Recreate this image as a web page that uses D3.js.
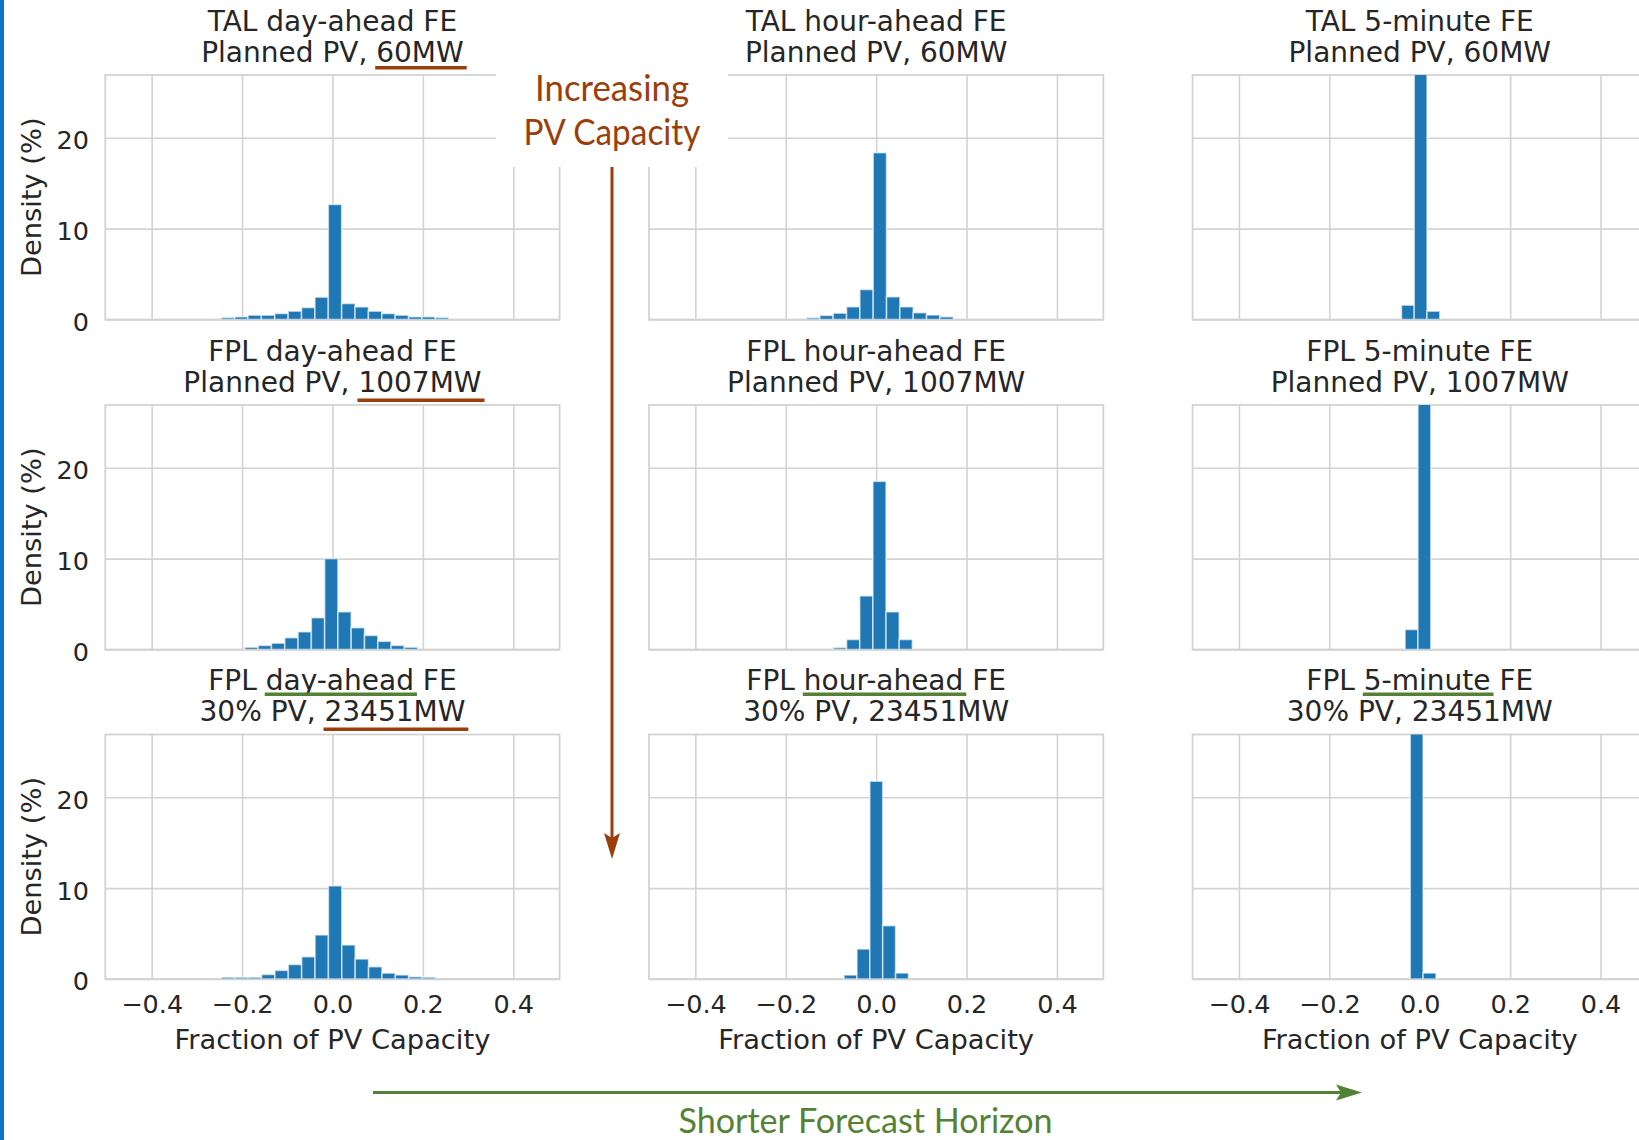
<!DOCTYPE html>
<html>
<head>
<meta charset="utf-8">
<script src="https://cdnjs.cloudflare.com/ajax/libs/d3/7.8.5/d3.min.js"></script>
<style>
  html, body { margin: 0; padding: 0; background: #fff; }
  svg { display: block; }
  text { white-space: pre; }
</style>
</head>
<body>
<svg id="fig" width="1639" height="1140"></svg>
<script>
// ---- panel labels ----
const horizons   = ["day-ahead", "hour-ahead", "5-minute"];
const systems    = ["TAL", "FPL", "FPL"];
const pvCases    = ["Planned PV", "Planned PV", "30% PV"];
const capacities = ["60MW", "1007MW", "23451MW"];
const xTicks = [-0.4, -0.2, 0.0, 0.2, 0.4];
const yTicks = [0, 10, 20];

// ---- forecast-error densities (%), bins left to right ----
const talDayAhead     = [0.22, 0.3, 0.48, 0.48, 0.66, 0.92, 1.32, 2.46, 12.66, 1.76, 1.39, 0.92, 0.66, 0.48, 0.3, 0.3, 0.22];
const talHourAhead    = [0.2, 0.45, 0.7, 1.4, 3.3, 18.35, 2.5, 1.4, 0.75, 0.5, 0.3];
const tal5Minute      = [1.58, 31.0, 0.92];
const fplDayAhead     = [0.25, 0.45, 0.7, 1.3, 1.95, 3.5, 10.0, 4.15, 2.4, 1.55, 0.9, 0.45, 0.25];
const fplHourAhead    = [0.22, 1.1, 5.9, 18.5, 4.15, 1.1];
const fpl5Minute      = [2.2, 31.0];
const fpl30DayAhead   = [0.2, 0.2, 0.2, 0.5, 0.95, 1.6, 2.45, 4.85, 10.25, 3.75, 2.2, 1.35, 0.65, 0.45, 0.25, 0.2];
const fpl30HourAhead  = [0.44, 3.3, 21.76, 5.87, 0.66];
const fpl30FiveMinute = [32.0, 0.66];

// left edge of the first bin and bin width (fraction of PV capacity)
const binStart = [[-0.246, -0.154, -0.0405], [-0.1937, -0.0945, -0.0325], [-0.2457, -0.071, -0.021]];
const binWidth = [[0.0296, 0.0295, 0.0283], [0.0294, 0.0291, 0.0285], [0.0296, 0.0285, 0.0285]];

const densities = [
  [talDayAhead, talHourAhead, tal5Minute],
  [fplDayAhead, fplHourAhead, fpl5Minute],
  [fpl30DayAhead, fpl30HourAhead, fpl30FiveMinute]
];

// ---- layout ----
const colLeft = [105.3, 649.0, 1192.6];
const rowTop  = [75.0, 405.0, 734.5];
const plotW = 454.3, plotH = 244.5;
const xDomain = [-0.5025, 0.5025], yDomain = [0, 26.9];

const ink = "#262626", gridCol = "#d3d3d3", barCol = "#1f77b4";
const brown = "#9a3f0c", green = "#548235";
const sans = "'DejaVu Sans', sans-serif";

const svg = d3.select("#fig");
svg.append("rect").attr("width", 1639).attr("height", 1140).attr("fill", "#fff");

const x = d3.scaleLinear().domain(xDomain).range([0, plotW]);
const y = d3.scaleLinear().domain(yDomain).range([plotH, 0]);

const defs = svg.append("defs");
defs.append("clipPath").attr("id", "plotClip")
  .append("rect").attr("width", plotW).attr("height", plotH);

function underline(textSel, startChar, nChars, dy, color) {
  const node = textSel.node();
  const x0 = node.getStartPositionOfChar(startChar).x;
  const x1 = node.getEndPositionOfChar(startChar + nChars - 1).x;
  const yb = +textSel.attr("y") + dy;
  d3.select(node.parentNode).append("line")
    .attr("x1", x0 - 1).attr("x2", x1 + 3)
    .attr("y1", yb).attr("y2", yb)
    .attr("stroke", color).attr("stroke-width", 3.5);
}

const capUnderlineDy = [6, 8.5, 8];

for (let r = 0; r < 3; r++) {
  for (let c = 0; c < 3; c++) {
    const g = svg.append("g").attr("transform", `translate(${colLeft[c]},${rowTop[r]})`);

    // gridlines
    const gx = g.append("g").attr("transform", `translate(0,${plotH})`)
      .call(d3.axisBottom(x).tickValues(xTicks).tickSize(-plotH).tickFormat(""));
    const gy = g.append("g")
      .call(d3.axisLeft(y).tickValues(yTicks).tickSize(-plotW).tickFormat(""));
    [gx, gy].forEach(a => {
      a.select(".domain").remove();
      a.selectAll("line").attr("stroke", gridCol).attr("stroke-width", 1.6);
    });

    // frame
    g.append("rect").attr("width", plotW).attr("height", plotH)
      .attr("fill", "none").attr("stroke", gridCol).attr("stroke-width", 1.8);

    // histogram bars (light edges between neighbouring bins)
    const vals = densities[r][c], s0 = binStart[r][c], w = binWidth[r][c];
    g.append("g").attr("clip-path", "url(#plotClip)")
      .selectAll("rect").data(vals).join("rect")
      .attr("x", (d, i) => x(s0 + i * w))
      .attr("width", (d, i) => x(s0 + (i + 1) * w) - x(s0 + i * w))
      .attr("y", d => y(d))
      .attr("height", d => plotH - y(d))
      .attr("fill", barCol)
      .attr("stroke", "#fff").attr("stroke-opacity", 0.6).attr("stroke-width", 1.6);

    // y tick labels + y label (first column)
    if (c === 0) {
      const ay = g.append("g")
        .call(d3.axisLeft(y).tickValues(yTicks).tickSize(0).tickPadding(16.3).tickFormat(d3.format("d")));
      ay.select(".domain").remove();
      ay.selectAll("text").attr("font-family", sans).attr("font-size", 25.5)
        .attr("fill", ink).attr("dy", "0.43em");
      g.append("text")
        .attr("transform", `translate(-64.5,${plotH / 2}) rotate(-90)`)
        .attr("text-anchor", "middle")
        .attr("font-family", sans).attr("font-size", 27.3).attr("fill", ink)
        .text("Density (%)");
    }

    // x tick labels + x label (bottom row)
    if (r === 2) {
      const ax = g.append("g").attr("transform", `translate(0,${plotH})`)
        .call(d3.axisBottom(x).tickValues(xTicks).tickSize(0).tickPadding(16).tickFormat(d3.format(".1f")));
      ax.select(".domain").remove();
      ax.selectAll("text").attr("font-family", sans).attr("font-size", 25.5).attr("fill", ink);
      g.append("text")
        .attr("x", plotW / 2).attr("y", plotH + 70)
        .attr("text-anchor", "middle")
        .attr("font-family", sans).attr("font-size", 27.3).attr("fill", ink)
        .text("Fraction of PV Capacity");
    }

    // two-line title
    const prefix1 = systems[r] + " ";
    const t1 = g.append("text").attr("x", plotW / 2).attr("y", -44.3)
      .attr("text-anchor", "middle").attr("font-family", sans)
      .attr("font-size", 28).attr("fill", ink)
      .text(prefix1 + horizons[c] + " FE");
    const prefix2 = pvCases[r] + ", ";
    const t2 = g.append("text").attr("x", plotW / 2).attr("y", -13.3)
      .attr("text-anchor", "middle").attr("font-family", sans)
      .attr("font-size", 28).attr("fill", ink)
      .text(prefix2 + capacities[r]);

    // emphasis: capacity along the first column, horizon along the last row
    if (c === 0) underline(t2, prefix2.length, capacities[r].length, capUnderlineDy[r], brown);
    if (r === 2) underline(t1, prefix1.length, horizons[c].length, 4, green);
  }
}

// ---- direction annotations ----
const ann = svg.append("g");
ann.append("rect").attr("x", 496).attr("y", 60).attr("width", 232).attr("height", 107).attr("fill", "#fff");
const annFont = "Lato, 'Open Sans', sans-serif";
ann.append("text").attr("x", 612).attr("y", 101).attr("text-anchor", "middle")
  .attr("font-family", annFont).attr("font-size", 36).attr("fill", brown)
  .attr("textLength", 154).attr("lengthAdjust", "spacingAndGlyphs")
  .text("Increasing");
ann.append("text").attr("x", 612).attr("y", 145).attr("text-anchor", "middle")
  .attr("font-family", annFont).attr("font-size", 36).attr("fill", brown)
  .attr("textLength", 177).attr("lengthAdjust", "spacingAndGlyphs")
  .text("PV Capacity");

// vertical arrow: increasing capacity
ann.append("line").attr("x1", 612).attr("x2", 612).attr("y1", 167).attr("y2", 840)
  .attr("stroke", brown).attr("stroke-width", 3);
ann.append("path")
  .attr("d", "M612,859 L604,833 L612,838 L620,833 Z")
  .attr("fill", brown);

// horizontal arrow: shorter forecast horizon
ann.append("line").attr("x1", 373).attr("x2", 1344).attr("y1", 1092.5).attr("y2", 1092.5)
  .attr("stroke", green).attr("stroke-width", 3.2);
ann.append("path")
  .attr("d", "M1362,1092.5 L1336,1084.5 L1341,1092.5 L1336,1100.5 Z")
  .attr("fill", green);
ann.append("text").attr("x", 865.5).attr("y", 1133).attr("text-anchor", "middle")
  .attr("font-family", annFont).attr("font-size", 35).attr("fill", green)
  .attr("textLength", 374).attr("lengthAdjust", "spacingAndGlyphs")
  .text("Shorter Forecast Horizon");

// page edge accent
svg.append("rect").attr("x", 0).attr("y", 0).attr("width", 4).attr("height", 1140).attr("fill", "#0a74c4");
</script>
</body>
</html>
